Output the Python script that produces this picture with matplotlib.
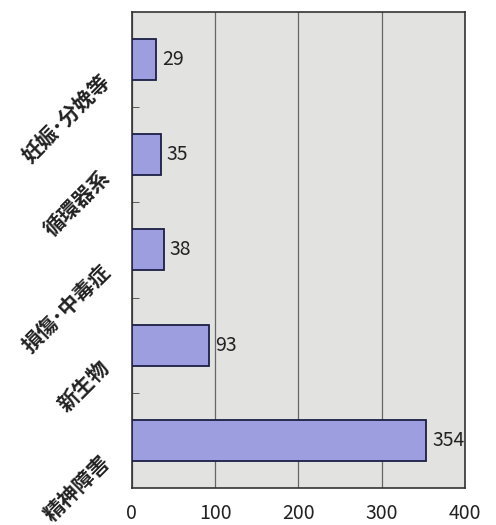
import matplotlib
matplotlib.use("Agg")
import matplotlib.pyplot as plt
import matplotlib.transforms as mtransforms

plt.rcParams['font.family'] = ['Noto Sans CJK JP', 'DejaVu Sans']

categories = ["妊娠･分娩等", "循環器系", "損傷･中毒症", "新生物", "精神障害"]
values = [29, 35, 38, 93, 354]
x_ticks = [0, 100, 200, 300, 400]

fig = plt.figure(figsize=(4.96, 5.25), dpi=100)
ax = fig.add_axes([0.266, 0.0705, 0.671, 0.907])
ax.set_facecolor("#e2e2e0")

pos = list(range(len(categories)))
ax.barh(pos, values, height=0.43, color="#9c9ee0", edgecolor="#1c1f45", linewidth=1.3, zorder=3)
for p, v in zip(pos, values):
    ax.text(v + 7, p, str(v), va="center", ha="left", fontsize=14, color="#222222", zorder=4)

ax.set_xlim(0, 400)
ax.set_ylim(len(categories) - 0.5, -0.5)
ax.set_xticks(x_ticks)
ax.set_xticklabels([str(t) for t in x_ticks], fontsize=14, color="#222222")
ax.tick_params(axis="x", length=0, pad=11)
ax.grid(axis="x", color="#666666", linewidth=0.9, zorder=1)

ax.set_yticks(pos)
ax.set_yticklabels(categories, fontsize=15, fontweight="bold", rotation=45, ha="right",
                   va="center", rotation_mode="anchor", color="#222222")
ax.tick_params(axis="y", length=0, pad=18)
# labels sit a bit below their bars, as in the original
offset = mtransforms.ScaledTranslation(0, -0.19, fig.dpi_scale_trans)
for lbl in ax.get_yticklabels():
    lbl.set_transform(lbl.get_transform() + offset)
ax.set_yticks([0.5, 1.5, 2.5, 3.5], minor=True)
ax.tick_params(axis="y", which="minor", direction="in", length=5, color="#444444")

for s in ax.spines.values():
    s.set_color("#333333")
    s.set_linewidth(1.2)

plt.savefig("out.png", dpi=100)
